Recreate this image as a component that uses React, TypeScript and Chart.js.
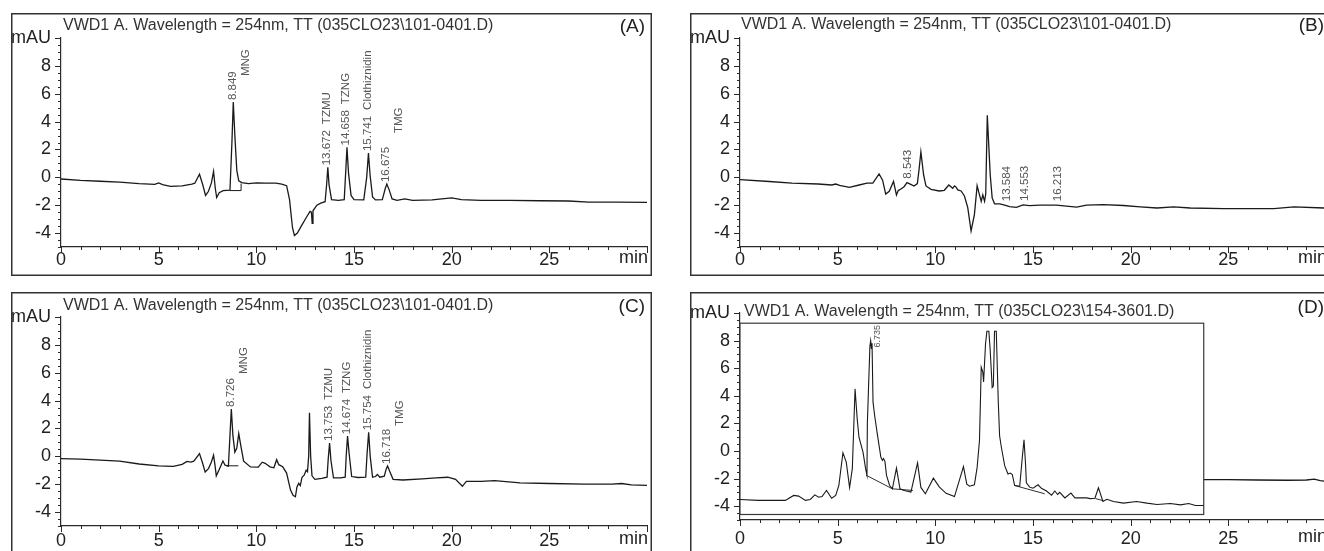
import React, { useEffect, useRef } from "react";
import { Chart, registerables } from "chart.js";
Chart.register(...registerables);

const FONT = "'Liberation Sans', Arial, Helvetica, sans-serif";
const INK = "#1a1a1a";
const AXIS = "#2a2a2a";
const LABEL_GRAY = "#555555";

// ---- axes ----
const xTickValues = [0, 5, 10, 15, 20, 25, 30];
const xTickLabels = ["0", "5", "10", "15", "20", "25", "min"];
const yTickValues = [-4, -2, 0, 2, 4, 6, 8, 10];
const yTickLabels = ["-4", "-2", "0", "2", "4", "6", "8", "mAU"];

const titleSample = "VWD1 A. Wavelength = 254nm, TT (035CLO23\\101-0401.D)";
const titleBlank = "VWD1 A. Wavelength = 254nm, TT (035CLO23\\154-3601.D)";

// ---- panel A ----
const traceA: number[][] = [
  [0, -0.12], [1, -0.22], [2, -0.28], [3, -0.35], [4, -0.45], [4.8, -0.5], [5.0, -0.4], [5.2, -0.52],
  [5.6, -0.65], [6.2, -0.62], [6.7, -0.48], [6.85, -0.42], [7.09, 0.22], [7.25, -0.5], [7.4, -1.3],
  [7.55, -1.0], [7.7, -0.4], [7.81, 0.42], [7.9, -0.8], [7.97, -1.45], [8.1, -1.1], [8.3, -0.95],
  [8.65, -0.92], [8.75, 2.5], [8.82, 5.4], [8.9, 3.0], [9.0, 0.5], [9.1, -0.25], [9.25, -0.38],
  [9.6, -0.45], [10.0, -0.4], [10.5, -0.42], [11.0, -0.42], [11.3, -0.48], [11.55, -0.6], [11.7, -1.6],
  [11.85, -3.6], [11.95, -4.18], [12.1, -4.0], [12.3, -3.5], [12.55, -2.9], [12.75, -2.45], [12.82, -2.5],
  [12.86, -3.3], [12.9, -2.4], [13.1, -2.0], [13.3, -1.85], [13.52, -1.75], [13.6, -0.5], [13.66, 0.72],
  [13.72, -0.5], [13.85, -1.6], [14.2, -1.65], [14.5, -1.6], [14.58, 0.5], [14.64, 2.15], [14.72, 0.3],
  [14.85, -1.3], [15.0, -1.6], [15.5, -1.62], [15.65, 0.0], [15.74, 1.74], [15.82, 0.2], [15.95, -1.4],
  [16.1, -1.62], [16.45, -1.6], [16.6, -0.8], [16.68, -0.48], [16.8, -0.9], [16.95, -1.55], [17.2, -1.65],
  [17.6, -1.55], [18.0, -1.65], [19.0, -1.62], [19.5, -1.55], [20.0, -1.48], [20.5, -1.6], [21.5, -1.65],
  [23.0, -1.66], [24.5, -1.68], [26.0, -1.7], [27.0, -1.78], [28.5, -1.78], [30.0, -1.8],
];
const baselineA: (number | null)[][] = [[8.65, -0.95], [9.22, -0.95], [9.22, -0.45]];
const peakTimesA = [8.849, 13.672, 14.658, 15.741, 16.675];
const peakNamesA = ["MNG", "TZMU", "TZNG", "Clothiznidin", "TMG"];

// ---- panel B ----
const traceB: number[][] = [
  [0, -0.17], [1.5, -0.3], [2.66, -0.41], [4.0, -0.48], [4.7, -0.55], [4.9, -0.48], [5.1, -0.58],
  [5.6, -0.72], [6.1, -0.55], [6.5, -0.42], [6.8, -0.42], [7.12, 0.24], [7.3, -0.2], [7.46, -1.2],
  [7.64, -1.0], [7.86, -0.29], [8.01, -1.27], [8.1, -0.95], [8.22, -0.86], [8.4, -0.67], [8.55, -0.38],
  [8.74, -0.5], [8.91, -0.62], [9.08, -0.45], [9.17, 0.6], [9.26, 1.82], [9.4, 0.17], [9.52, -0.62],
  [9.78, -0.86], [10.2, -0.98], [10.46, -0.93], [10.69, -0.55], [10.89, -0.79], [10.98, -0.62],
  [11.06, -0.7], [11.15, -0.9], [11.32, -0.98], [11.49, -1.34], [11.66, -2.17], [11.83, -3.85],
  [12.0, -2.67], [12.14, -0.6], [12.25, -1.2], [12.35, -1.72], [12.43, -1.26], [12.52, -1.72],
  [12.58, -1.2], [12.66, 4.45], [12.81, 0.19], [12.91, -1.48], [13.03, -1.9], [13.3, -1.9],
  [13.55, -2.0], [13.8, -2.1], [14.15, -2.15], [14.49, -1.98], [14.83, -2.03], [15.35, -2.0],
  [16.2, -2.0], [17.23, -2.14], [17.74, -2.0], [18.6, -1.96], [19.63, -2.02], [20.49, -2.12],
  [21.35, -2.2], [22.2, -2.12], [23.05, -2.2], [24.76, -2.25], [27.33, -2.25], [28.36, -2.12],
  [29.9, -2.2], [30.0, -2.2],
];
const peakTimesB = [8.543, 13.584, 14.553, 16.213];

// ---- panel C ----
const traceC: number[][] = [
  [0, -0.16], [1, -0.2], [2, -0.27], [3, -0.35], [4, -0.55], [5, -0.68], [5.75, -0.72], [6.2, -0.58],
  [6.45, -0.36], [6.65, -0.42], [6.8, -0.35], [7.09, 0.2], [7.25, -0.5], [7.38, -1.12], [7.55, -0.88],
  [7.7, -0.4], [7.81, 0.08], [7.88, -0.6], [7.95, -1.4], [8.1, -0.95], [8.29, -0.33], [8.4, -0.64],
  [8.57, -0.7], [8.65, 1.5], [8.72, 3.4], [8.8, 1.5], [8.9, 0.3], [9.0, 0.6], [9.1, 1.63], [9.2, 0.8],
  [9.35, -0.35], [9.7, -0.76], [10.1, -0.78], [10.3, -0.42], [10.45, -0.5], [10.7, -0.75], [10.9, -0.82],
  [11.04, -0.24], [11.15, -0.6], [11.35, -0.75], [11.55, -1.2], [11.75, -2.42], [11.88, -2.8],
  [12.0, -2.9], [12.08, -2.2], [12.17, -1.94], [12.25, -2.1], [12.34, -1.5], [12.45, -1.35],
  [12.55, -1.0], [12.62, -1.1], [12.68, 0.0], [12.72, 3.12], [12.78, 0.0], [12.85, -1.4], [13.0, -1.65],
  [13.35, -1.58], [13.62, -1.5], [13.68, -0.2], [13.75, 0.96], [13.82, -0.3], [13.95, -1.55],
  [14.3, -1.55], [14.55, -1.5], [14.6, 0.0], [14.67, 1.45], [14.75, 0.2], [14.88, -1.45], [15.2, -1.52],
  [15.6, -1.5], [15.67, 0.2], [15.75, 1.73], [15.83, 0.0], [15.95, -1.5], [16.1, -1.45], [16.2, -1.3],
  [16.32, -1.5], [16.55, -1.42], [16.65, -0.9], [16.72, -0.69], [16.82, -1.05], [17.0, -1.65],
  [17.5, -1.7], [18.5, -1.62], [19.2, -1.55], [19.8, -1.5], [20.2, -1.65], [20.55, -2.15], [20.75, -1.8],
  [21.5, -1.8], [22.2, -1.75], [23.5, -1.9], [25.0, -1.95], [26.8, -2.0], [28.2, -2.0], [28.7, -1.95],
  [29.2, -2.05], [30.0, -2.08],
];
const baselineC: (number | null)[][] = [[8.5, -0.68], [9.08, -0.68]];
const peakTimesC = [8.726, 13.753, 14.674, 15.754, 16.718];
const peakNamesC = ["MNG", "TZMU", "TZNG", "Clothiznidin", "TMG"];

// ---- panel D ----
const traceD: number[][] = [
  [23.0, -2.05], [23.74, -2.07], [25.0, -2.08], [26.5, -2.1], [28.0, -2.12], [29.0, -2.1],
  [29.4, -2.04], [29.7, -2.15], [30.0, -2.2],
];
const insetD: number[][] = [
  [0.0, -3.51], [0.95, -3.58], [2.32, -3.58], [2.75, -3.22], [3.0, -3.27], [3.35, -3.58], [3.6, -3.51],
  [3.83, -3.18], [4.03, -3.35], [4.2, -3.3], [4.43, -2.86], [4.69, -3.42], [4.9, -3.22], [5.06, -2.5],
  [5.27, -0.13], [5.44, -0.81], [5.61, -2.65], [5.75, -1.28], [5.89, 4.5], [6.0, 2.33], [6.09, 1.0],
  [6.3, -0.1], [6.43, -1.28], [6.5, -1.75], [6.52, 2.0], [6.65, 7.6], [6.69, 8.0], [6.73, 7.4],
  [6.76, 7.8], [6.81, 3.54], [6.9, 2.5], [7.04, 1.13], [7.21, -0.44], [7.29, -0.68], [7.35, -0.55],
  [7.42, -0.75], [7.5, -1.77], [7.66, -2.5], [7.8, -2.74], [8.01, -1.24], [8.19, -2.74], [8.41, -2.86],
  [8.75, -2.98], [9.09, -0.86], [9.26, -2.64], [9.49, -3.1], [9.9, -1.97], [10.2, -2.6], [10.55, -3.07],
  [10.98, -3.3], [11.44, -1.13], [11.61, -2.4], [11.75, -2.55], [12.0, -2.45], [12.14, -1.19],
  [12.26, 0.76], [12.35, 6.07], [12.43, 5.72], [12.47, 5.0], [12.57, 7.77], [12.64, 8.68], [12.74, 8.68],
  [12.81, 7.28], [12.91, 4.6], [12.97, 4.7], [13.03, 8.68], [13.12, 8.68], [13.22, 3.66], [13.29, 1.1],
  [13.38, 0.27], [13.55, -1.06], [13.72, -1.67], [13.84, -1.6], [13.94, -1.7], [14.06, -2.5],
  [14.32, -2.55], [14.45, -0.5], [14.54, 0.82], [14.62, -1.0], [14.66, -2.3], [14.83, -2.62],
  [15.0, -2.7], [15.26, -2.45], [15.43, -2.7], [15.69, -2.9], [15.95, -3.2], [16.12, -2.9],
  [16.26, -3.15], [16.37, -3.0], [16.63, -3.4], [16.94, -3.05], [17.15, -3.4], [17.75, -3.4],
  [17.92, -3.45], [18.17, -3.42], [18.35, -2.67], [18.58, -3.66], [18.78, -3.5], [19.12, -3.66],
  [19.63, -3.78], [20.3, -3.66], [20.83, -3.78], [21.35, -3.88], [22.03, -3.8], [22.55, -3.9],
  [22.97, -3.8], [23.32, -3.95], [23.74, -3.95],
];
const insetBaselineD: (number | null)[][] = [
  [6.45, -1.75], [7.8, -2.74], [8.85, -2.86], [null, null],
  [14.06, -2.5], [15.6, -3.1], [null, null],
  [18.2, -3.45], [18.6, -3.6],
];
const insetRangeD = { x0: 0, x1: 23.74, y0: -4.6, y1: 9.26 };
const peakTimesD = [6.735];

// ---- layout / style per panel ----
interface PanelCfg {
  key: string;
  left: number;
  top: number;
  title: string;
  letter: string;
  titleX: number;
  titleY: number;
  letterY: number;
  padTop: number;
  xAxisH: number;
  xLabelPad: number;
  trace: number[][];
  baseline?: (number | null)[][];
  inset?: number[][];
  insetBaseline?: (number | null)[][];
  insetRange?: { x0: number; x1: number; y0: number; y1: number };
  peaks: number[];
  names?: string[];
  nameMode?: string[];
  nameRise?: number[];
  labelSize: number;
  labelDx: number;
  labelGap: number;
}

const W = 641;
const H = 263;
const TICK_FONT_SIZE = 18;

const panels: PanelCfg[] = [
  {
    key: "A", left: 11, top: 13, title: titleSample, letter: "(A)", titleX: 2, titleY: 12.5, letterY: 14,
    padTop: 25, xAxisH: 29, xLabelPad: 2.5, trace: traceA, baseline: baselineA, peaks: peakTimesA,
    names: peakNamesA, nameMode: ["col", "inline", "inline", "inline", "col"], nameRise: [24, 0, 0, 0, 49],
    labelSize: 11.5, labelDx: -1, labelGap: 2,
  },
  {
    key: "B", left: 690, top: 13, title: titleSample, letter: "(B)", titleX: 1, titleY: 12, letterY: 12.5,
    padTop: 25, xAxisH: 29, xLabelPad: 2.5, trace: traceB, peaks: peakTimesB,
    labelSize: 11.5, labelDx: 1, labelGap: 4,
  },
  {
    key: "C", left: 11, top: 292, title: titleSample, letter: "(C)", titleX: 2, titleY: 13.5, letterY: 14.5,
    padTop: 25, xAxisH: 29, xLabelPad: 4, trace: traceC, baseline: baselineC, peaks: peakTimesC,
    names: peakNamesC, nameMode: ["col", "inline", "inline", "inline", "col"], nameRise: [33, 0, 0, 0, 38],
    labelSize: 11.5, labelDx: -1, labelGap: 2,
  },
  {
    key: "D", left: 690, top: 292, title: titleBlank, letter: "(D)", titleX: 4, titleY: 20, letterY: 16,
    padTop: 21, xAxisH: 35, xLabelPad: 8.5, trace: traceD, inset: insetD, insetBaseline: insetBaselineD,
    insetRange: insetRangeD, peaks: peakTimesD,
    labelSize: 9, labelDx: 6, labelGap: -7,
  },
];

function toPoints(arr: (number | null)[][]) {
  return arr.map((p) => ({ x: p[0] as number, y: p[1] as number | null }));
}

function peakTop(trace: number[][], rt: number): number {
  let best = -Infinity;
  for (const p of trace) {
    if (Math.abs(p[0] - rt) <= 0.15 && p[1] > best) best = p[1];
  }
  return best;
}

function makePlugin(cfg: PanelCfg) {
  return {
    id: "chrom" + cfg.key,
    beforeDatasetDraw(chart: any, args: any) {
      const ds = chart.data.datasets[args.index];
      if (!ds.isInset || !cfg.insetRange) return;
      const xs = chart.scales.x;
      const ys = chart.scales.y;
      const r = cfg.insetRange;
      const l = xs.getPixelForValue(r.x0);
      const rr = xs.getPixelForValue(r.x1);
      const t = ys.getPixelForValue(r.y1);
      const b = ys.getPixelForValue(r.y0);
      const ctx = chart.ctx;
      ctx.save();
      ctx.fillStyle = "#ffffff";
      ctx.fillRect(l, t, rr - l, b - t);
      ctx.strokeStyle = "#3a3a3a";
      ctx.lineWidth = 1.2;
      ctx.strokeRect(l, t, rr - l, b - t);
      ctx.beginPath();
      ctx.rect(l, t, rr - l, b - t);
      ctx.clip();
    },
    afterDatasetDraw(chart: any, args: any) {
      const ds = chart.data.datasets[args.index];
      if (!ds.isInset || !cfg.insetRange) return;
      chart.ctx.restore();
    },
    afterDraw(chart: any) {
      const ctx: CanvasRenderingContext2D = chart.ctx;
      const xs = chart.scales.x;
      const ys = chart.scales.y;
      const area = chart.chartArea;
      ctx.save();
      // minor + major ticks
      ctx.strokeStyle = AXIS;
      ctx.lineWidth = 1;
      ctx.beginPath();
      for (let t = 0; t <= 30; t += 1) {
        const px = Math.round(xs.getPixelForValue(t)) + 0.5;
        const len = t % 5 === 0 ? 6 : 3;
        ctx.moveTo(px, area.bottom);
        ctx.lineTo(px, area.bottom + len);
      }
      for (let k = -10; k <= 20; k++) {
        const py = Math.round(ys.getPixelForValue(k / 2)) + 0.5;
        const len = k % 4 === 0 ? 6 : 3;
        ctx.moveTo(area.left, py);
        ctx.lineTo(area.left - len, py);
      }
      ctx.stroke();

      // "min" unit at the last x tick, right aligned
      ctx.fillStyle = "#222";
      ctx.font = `${TICK_FONT_SIZE}px ${FONT}`;
      ctx.textAlign = "right";
      ctx.textBaseline = "top";
      ctx.fillText(xTickLabels[xTickLabels.length - 1], xs.getPixelForValue(30) + 1, area.bottom + cfg.xLabelPad);

      // title
      ctx.fillStyle = "#333";
      ctx.font = `16px ${FONT}`;
      ctx.textAlign = "left";
      ctx.textBaseline = "middle";
      ctx.fillText(cfg.title, area.left + cfg.titleX, cfg.titleY);

      // letter
      ctx.fillStyle = "#222";
      ctx.font = `19px ${FONT}`;
      ctx.textAlign = "right";
      ctx.fillText(cfg.letter, W - 7, cfg.letterY);

      // peak labels
      const src = cfg.inset ? cfg.inset : cfg.trace;
      ctx.fillStyle = LABEL_GRAY;
      ctx.font = `${cfg.labelSize}px ${FONT}`;
      ctx.textAlign = "left";
      ctx.textBaseline = "middle";
      const rot = (s: string, x: number, y: number) => {
        ctx.save();
        ctx.translate(x, y);
        ctx.rotate(-Math.PI / 2);
        ctx.fillText(s, 0, 0);
        ctx.restore();
      };
      cfg.peaks.forEach((rt, i) => {
        const top = peakTop(src, rt);
        const px = xs.getPixelForValue(rt) + cfg.labelDx;
        const py = ys.getPixelForValue(top) - cfg.labelGap;
        const s = rt.toFixed(3);
        rot(s, px, py);
        const name = cfg.names ? cfg.names[i] : undefined;
        if (name) {
          const mode = cfg.nameMode ? cfg.nameMode[i] : "inline";
          if (mode === "inline") {
            const w = ctx.measureText(s).width;
            rot(name, px, py - w - 6);
          } else {
            rot(name, px + 13, py - (cfg.nameRise ? cfg.nameRise[i] : 0));
          }
        }
      });

      // frame
      ctx.strokeStyle = "#333";
      ctx.lineWidth = 1.5;
      ctx.strokeRect(0.75, 0.75, W - 1.5, H - 1.5);
      ctx.restore();
    },
  };
}

function Panel({ cfg }: { cfg: PanelCfg }) {
  const ref = useRef<HTMLCanvasElement>(null);
  useEffect(() => {
    const canvas = ref.current;
    if (!canvas) return;
    const datasets: any[] = [
      {
        data: toPoints(cfg.trace),
        borderColor: INK,
        borderWidth: 1.3,
        pointRadius: 0,
        tension: 0,
        order: 5,
      },
    ];
    if (cfg.baseline) {
      datasets.push({
        data: toPoints(cfg.baseline),
        borderColor: INK,
        borderWidth: 1,
        pointRadius: 0,
        tension: 0,
        spanGaps: false,
        order: 4,
      });
    }
    if (cfg.inset) {
      datasets.push({
        data: toPoints(cfg.inset),
        borderColor: INK,
        borderWidth: 1.1,
        pointRadius: 0,
        tension: 0,
        order: 2,
        isInset: true,
      });
    }
    if (cfg.insetBaseline) {
      datasets.push({
        data: toPoints(cfg.insetBaseline),
        borderColor: INK,
        borderWidth: 0.9,
        pointRadius: 0,
        tension: 0,
        spanGaps: false,
        order: 1,
      });
    }
    const tickFont = { family: FONT, size: TICK_FONT_SIZE };
    const chart = new Chart(canvas, {
      type: "line",
      data: { datasets },
      options: {
        animation: false,
        responsive: false,
        devicePixelRatio: 1,
        parsing: false as any,
        layout: { padding: { left: 0, right: 5, top: cfg.padTop, bottom: 0 } },
        plugins: { legend: { display: false }, tooltip: { enabled: false } },
        scales: {
          x: {
            type: "linear",
            min: 0,
            max: 30,
            afterBuildTicks: (s: any) => {
              s.ticks = xTickValues.map((v) => ({ value: v }));
            },
            afterFit: (s: any) => {
              s.height = cfg.xAxisH;
              s.paddingLeft = 0;
              s.paddingRight = 0;
            },
            grid: { display: false, drawTicks: false },
            border: { display: true, color: AXIS, width: 1.2 },
            ticks: {
              autoSkip: false,
              maxRotation: 0,
              padding: cfg.xLabelPad,
              color: "#222",
              font: tickFont,
              callback: (v: any) => {
                const i = xTickValues.indexOf(Number(v));
                return i === xTickValues.length - 1 ? "" : xTickLabels[i];
              },
            },
          },
          y: {
            type: "linear",
            min: -5,
            max: 10,
            afterBuildTicks: (s: any) => {
              s.ticks = yTickValues.map((v) => ({ value: v }));
            },
            afterFit: (s: any) => {
              s.width = 50;
              s.paddingTop = 0;
              s.paddingBottom = 0;
            },
            grid: { display: false, drawTicks: false },
            border: { display: true, color: AXIS, width: 1.2 },
            ticks: {
              autoSkip: false,
              padding: 10,
              color: "#222",
              font: tickFont,
              callback: (v: any) => {
                const i = yTickValues.indexOf(Number(v));
                return i >= 0 ? yTickLabels[i] : "";
              },
            },
          },
        },
      },
      plugins: [makePlugin(cfg)],
    });
    return () => chart.destroy();
  }, [cfg]);
  return (
    <canvas
      ref={ref}
      width={W}
      height={H}
      style={{ position: "absolute", left: cfg.left, top: cfg.top, width: W, height: H }}
    />
  );
}

export default function App() {
  return (
    <div
      style={{
        position: "fixed",
        left: 0,
        top: 0,
        width: 1324,
        height: 551,
        overflow: "hidden",
        background: "#ffffff",
      }}
    >
      {panels.map((p) => (
        <Panel key={p.key} cfg={p} />
      ))}
    </div>
  );
}
